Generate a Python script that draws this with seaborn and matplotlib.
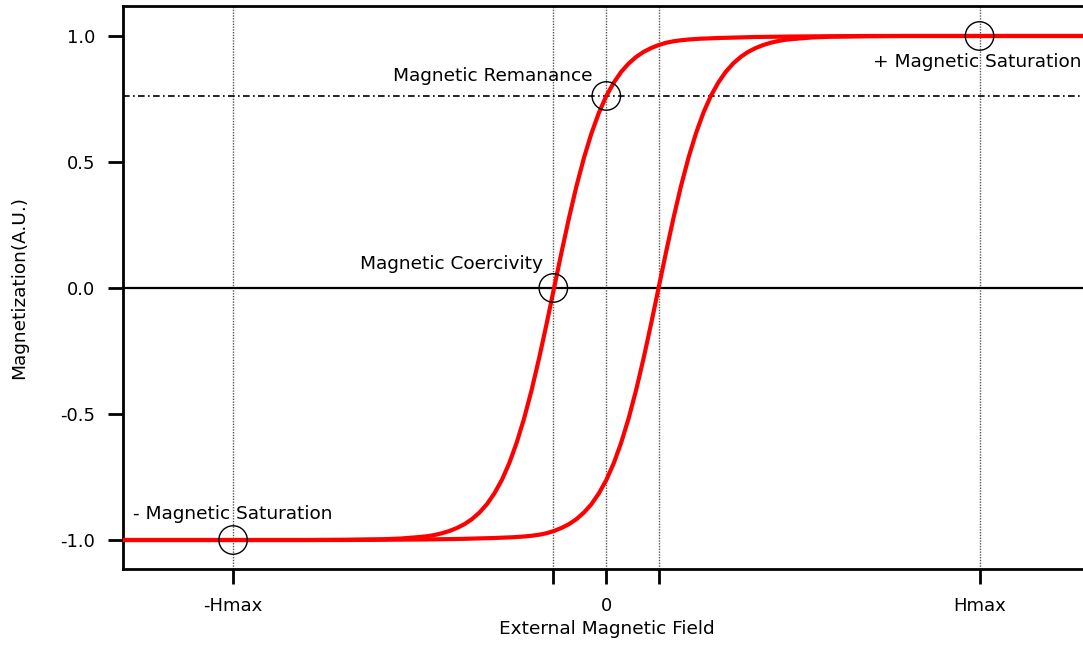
import numpy as np
import pandas as pd
import matplotlib
matplotlib.use("Agg")
import matplotlib.pyplot as plt
import seaborn as sns

# ---- data ----
# descending branch (upper, left loop side)
h_desc = [-1.30, -0.80, -0.70, -0.60, -0.55, -0.50, -0.48, -0.46, -0.44, -0.42, -0.40,
          -0.38, -0.36, -0.34, -0.32, -0.30, -0.28, -0.26, -0.24, -0.22, -0.20,
          -0.18, -0.16, -0.14, -0.12, -0.10, -0.08, -0.06, -0.04, -0.02, 0.00,
          0.02, 0.04, 0.06, 0.08, 0.10, 0.12, 0.14, 0.16, 0.18, 0.20, 0.22,
          0.25, 0.30, 0.35, 0.40, 0.50, 0.60, 0.70, 1.30]
m_desc = [-1.000, -1.000, -0.999, -0.997, -0.994, -0.988, -0.985, -0.980, -0.973, -0.964, -0.952,
          -0.937, -0.917, -0.891, -0.858, -0.815, -0.762, -0.695, -0.613, -0.516, -0.404,
          -0.278, -0.142, 0.000, 0.142, 0.278, 0.404, 0.516, 0.613, 0.695, 0.762,
          0.815, 0.858, 0.891, 0.917, 0.937, 0.952, 0.964, 0.973, 0.979, 0.983, 0.986,
          0.989, 0.992, 0.994, 0.996, 0.998, 0.999, 1.000, 1.000]
# ascending branch (lower, right loop side)
h_asc = [-1.30, -0.70, -0.60, -0.50, -0.40, -0.35, -0.30, -0.25, -0.22, -0.20, -0.18,
         -0.16, -0.14, -0.12, -0.10, -0.08, -0.06, -0.04, -0.02, 0.00, 0.02,
         0.04, 0.06, 0.08, 0.10, 0.12, 0.14, 0.16, 0.18, 0.20, 0.22,
         0.24, 0.26, 0.28, 0.30, 0.32, 0.34, 0.36, 0.38, 0.40, 0.42,
         0.44, 0.46, 0.48, 0.50, 0.55, 0.60, 0.70, 0.80, 1.30]
m_asc = [-1.000, -1.000, -0.999, -0.998, -0.996, -0.994, -0.992, -0.989, -0.986, -0.983, -0.979,
         -0.973, -0.964, -0.952, -0.937, -0.917, -0.891, -0.858, -0.815, -0.762, -0.695,
         -0.613, -0.516, -0.404, -0.278, -0.142, 0.000, 0.142, 0.278, 0.404, 0.516,
         0.613, 0.695, 0.762, 0.815, 0.858, 0.891, 0.917, 0.937, 0.952, 0.964,
         0.973, 0.980, 0.985, 0.988, 0.994, 0.997, 0.999, 1.000, 1.000]

h_max = 1.0
h_coerc = 0.142
m_rem = 0.762
x_ticks = [-h_max, -h_coerc, 0.0, h_coerc, h_max]
x_tick_labels = ["-Hmax", "", "0", "", "Hmax"]
y_ticks = [-1.0, -0.5, 0.0, 0.5, 1.0]
marker_x = [-h_max, -h_coerc, 0.0, h_max]
marker_y = [-1.0, 0.0, m_rem, 1.0]
annotations = [
    ("Magnetic Remanance", -0.305, 0.843, "center"),
    ("+ Magnetic Saturation", 0.715, 0.897, "left"),
    ("Magnetic Coercivity", -0.415, 0.097, "center"),
    ("- Magnetic Saturation", -1.268, -0.895, "left"),
]

df = pd.concat([
    pd.DataFrame({"H": h_desc, "M": m_desc, "branch": "desc"}),
    pd.DataFrame({"H": h_asc, "M": m_asc, "branch": "asc"}),
], ignore_index=True)

sns.set_theme(style="ticks")
plt.rcParams["font.family"] = ["DejaVu Sans"]
plt.rcParams["axes.unicode_minus"] = False

fig = plt.figure(figsize=(10.83, 6.47), dpi=100)
ax = fig.add_axes([123 / 1083, 78 / 647, 967 / 1083, 563 / 647])

# reference lines
for xv in x_ticks:
    ax.axvline(xv, color="#555555", lw=1.0, ls=(0, (1, 1)), zorder=1)
ax.axhline(0.0, color="black", lw=1.6, zorder=1)
ax.axhline(m_rem, color="black", lw=1.2, ls=(0, (4, 2, 1, 2)), zorder=1)

for b in ["desc", "asc"]:
    sub = df[df["branch"] == b]
    sns.lineplot(data=sub, x="H", y="M", sort=False, color="#ff0000", lw=3.0,
                 ax=ax, estimator=None, zorder=3, solid_joinstyle="round")

ax.scatter(marker_x, marker_y, s=420, facecolors="none", edgecolors="black",
           linewidths=1.0, zorder=4)

for txt, xx, yy, ha in annotations:
    ax.text(xx, yy, txt, ha=ha, va="center", fontsize=13.3, color="black", zorder=5)

ax.set_xlim(-1.295, 1.296)
ax.set_ylim(-1.115, 1.119)
ax.set_xticks(x_ticks)
ax.set_xticklabels(x_tick_labels)
ax.set_yticks(y_ticks)
ax.set_yticklabels([f"{v:.1f}" for v in y_ticks])
ax.tick_params(axis="both", direction="out", length=11, width=2, labelsize=13,
               color="black", labelcolor="black", pad=9)
ax.set_xlabel("External Magnetic Field", fontsize=13.3, labelpad=4, color="black")
ax.set_ylabel("Magnetization(A.U.)", fontsize=13.3, labelpad=23, color="black")

for s in ["left", "top", "bottom"]:
    ax.spines[s].set_linewidth(2)
    ax.spines[s].set_color("black")
ax.spines["right"].set_visible(False)
ax.grid(False)

fig.savefig("out.png", dpi=100)
